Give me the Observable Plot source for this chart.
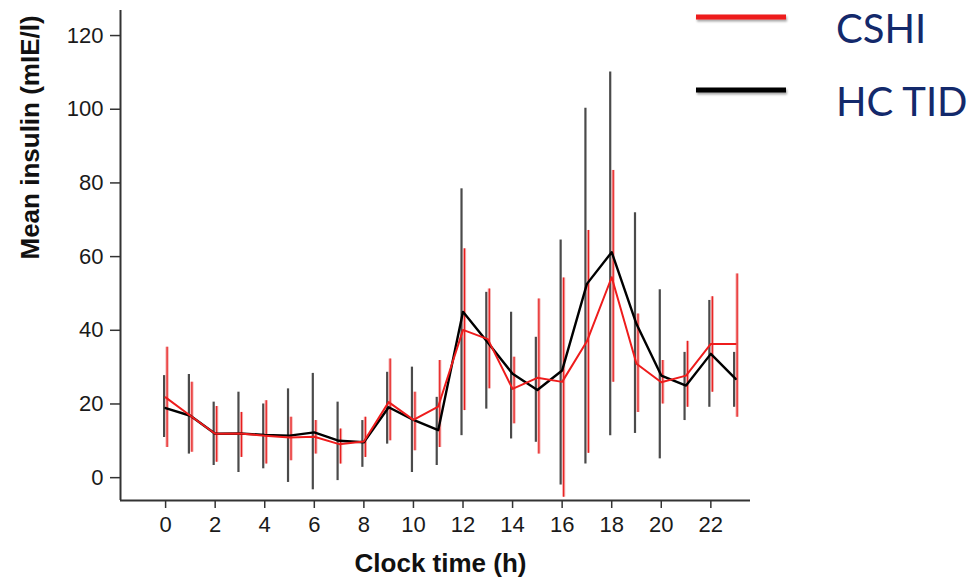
<!DOCTYPE html>
<html>
<head>
<meta charset="utf-8">
<script src="https://cdn.jsdelivr.net/npm/d3@7"></script>
<script src="https://cdn.jsdelivr.net/npm/@observablehq/plot@0.6"></script>
<style>
  html, body { margin: 0; padding: 0; background: #fff; }
  #wrap { position: relative; width: 973px; height: 586px; overflow: hidden; }
  #legend { position: absolute; left: 0; top: 0; }
</style>
</head>
<body>
<div id="wrap"></div>
<script>
// Clock hours of the 24-hour profile
const hours = [0, 1, 2, 3, 4, 5, 6, 7, 8, 9, 10, 11, 12, 13, 14, 15, 16, 17, 18, 19, 20, 21, 22, 23];

// CSHI: mean insulin and error-bar range (mIE/l)
const cshiMean = [21.8, 16.8, 11.9, 12.0, 11.4, 10.9, 11.1, 9.1, 9.8, 20.5, 15.7, 19.3, 40.1, 37.6, 24.1, 27.1, 26.0, 37.0, 54.4, 30.9, 25.9, 27.7, 36.3, 36.3];
const cshiHigh = [35.4, 25.9, 19.3, 17.7, 20.9, 16.4, 15.5, 13.2, 16.4, 32.2, 23.2, 31.8, 62.1, 51.2, 32.7, 48.5, 54.2, 67.1, 83.4, 44.4, 31.8, 37.0, 49.1, 55.3];
const cshiLow  = [8.2, 6.9, 4.2, 5.5, 3.7, 4.6, 6.4, 3.7, 5.5, 10.0, 7.3, 8.2, 18.2, 24.1, 14.6, 6.4, -5.3, 6.6, 25.9, 17.7, 20.0, 19.1, 23.2, 16.4];

// HC TID: mean insulin and error-bar range (mIE/l)
const hcMean = [18.9, 16.8, 11.9, 12.0, 11.6, 11.4, 12.3, 10.0, 9.6, 19.1, 15.7, 12.9, 45.0, 36.7, 28.2, 23.8, 29.1, 52.6, 61.2, 41.7, 27.7, 25.0, 33.6, 26.8];
const hcHigh = [27.7, 28.0, 20.5, 23.2, 20.0, 24.1, 28.3, 20.5, 15.5, 28.6, 30.0, 21.8, 78.4, 50.3, 44.9, 38.1, 64.5, 100.3, 110.1, 71.9, 51.0, 34.0, 48.1, 34.0];
const hcLow  = [10.9, 6.4, 3.3, 1.4, 2.4, -1.3, -3.3, -0.8, 2.8, 9.1, 1.4, 3.3, 11.4, 18.6, 10.5, 9.6, -2.0, 3.7, 11.4, 12.0, 5.1, 15.5, 19.1, 19.1];

// Axis ticks and titles
const xTicks = [0, 2, 4, 6, 8, 10, 12, 14, 16, 18, 20, 22];
const yTicks = [0, 20, 40, 60, 80, 100, 120];
const xTitle = "Clock time (h)";
const yTitle = "Mean insulin (mIE/l)";

// Legend entries
const seriesNames = ["CSHI", "HC TID"];
const seriesColors = ["#ee1c1c", "#000000"];

const xDomain = [-1.82, 23.6];
const yDomain = [-6.2, 126.8];

const cshi = hours.map((h, i) => ({hour: h, mean: cshiMean[i], low: cshiLow[i], high: cshiHigh[i]}));
const hc = hours.map((h, i) => ({hour: h, mean: hcMean[i], low: hcLow[i], high: hcHigh[i]}));

const chart = Plot.plot({
  width: 973,
  height: 586,
  marginLeft: 120,
  marginRight: 223,
  marginTop: 10,
  marginBottom: 86,
  style: {fontFamily: "'Liberation Sans', Arial, sans-serif", color: "#1a1a1a", background: "white"},
  x: {domain: xDomain},
  y: {domain: yDomain},
  marks: [
    Plot.axisX(xTicks, {tickSize: 8, tickPadding: 8, fontSize: 22, label: null, stroke: "#333", strokeWidth: 1.5}),
    Plot.axisY(yTicks, {tickSize: 10, tickPadding: 7, fontSize: 22, label: null, stroke: "#333", strokeWidth: 1.5}),
    Plot.ruleX([xDomain[0]], {stroke: "#333", strokeWidth: 2}),
    Plot.ruleY([yDomain[0]], {stroke: "#333", strokeWidth: 2}),
    // error bars
    Plot.ruleX(hc, {x: "hour", y1: "low", y2: "high", dx: -1.5, stroke: "#2a2a2a", strokeWidth: 2.2, strokeOpacity: 0.85}),
    Plot.ruleX(cshi, {x: "hour", y1: "low", y2: "high", dx: 1.5, stroke: "#f08a8a", strokeWidth: 3.2, strokeOpacity: 0.7}),
    Plot.ruleX(cshi, {x: "hour", y1: "low", y2: "high", dx: 1.5, stroke: "#e81e1e", strokeWidth: 1.2}),
    // mean profiles
    Plot.line(hc, {x: "hour", y: "mean", stroke: seriesColors[1], strokeWidth: 2.4}),
    Plot.line(cshi, {x: "hour", y: "mean", stroke: seriesColors[0], strokeWidth: 2}),
    // axis titles
    Plot.text([xTitle], {frameAnchor: "bottom", dx: 5, dy: 71, fontSize: 26, fontWeight: "bold", fill: "#111"}),
    Plot.text([yTitle], {frameAnchor: "left", dx: -90, dy: 4, rotate: -90, fontSize: 26, fontWeight: "bold", fill: "#111"})
  ]
});

const wrap = document.getElementById("wrap");
wrap.appendChild(chart);

// Legend drawn to the right of the plot
const legend = d3.select(wrap).append("svg")
  .attr("id", "legend")
  .attr("width", 973)
  .attr("height", 140);

// soft drop shadow under each legend swatch (region in the swatch's local coordinates)
const defs = legend.append("defs");
const f = defs.append("filter").attr("id", "shadow")
  .attr("filterUnits", "userSpaceOnUse")
  .attr("x", 680).attr("y", -20).attr("width", 130).attr("height", 40);
f.append("feDropShadow").attr("dx", 1).attr("dy", 2).attr("stdDeviation", 1.2)
  .attr("flood-color", "#000").attr("flood-opacity", 0.35);

const rows = legend.selectAll("g").data(seriesNames).join("g")
  .attr("transform", (d, i) => `translate(0, ${17 + i * 73})`);
rows.append("rect")
  .attr("x", 696).attr("width", 90).attr("y", -2.5).attr("height", 5)
  .attr("fill", (d, i) => seriesColors[i])
  .attr("filter", "url(#shadow)");
rows.append("text")
  .attr("x", 836).attr("y", 26)
  .attr("font-family", "Lato, 'Open Sans', sans-serif")
  .attr("font-size", 40)
  .attr("fill", "#13296b")
  .text(d => d);
</script>
</body>
</html>
